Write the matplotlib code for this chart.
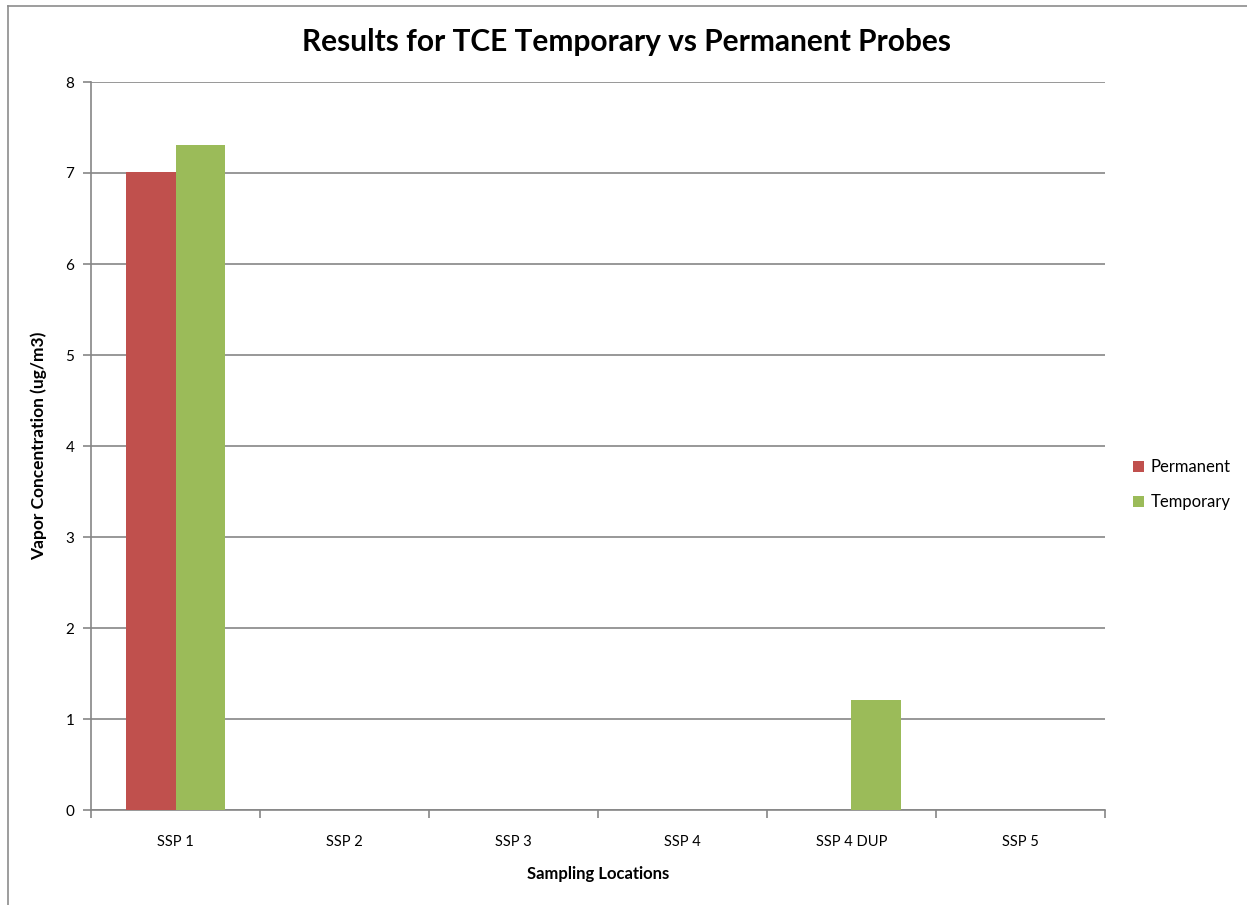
import numpy as np
import matplotlib.pyplot as plt
from matplotlib.lines import Line2D

locations = ["SSP 1", "SSP 2", "SSP 3", "SSP 4", "SSP 4 DUP", "SSP 5"]
permanent = [7.01, 0, 0, 0, 0, 0]
temporary = [7.31, 0, 0, 0, 1.21, 0]

plt.rcParams["font.family"] = ["Lato", "DejaVu Sans"]
axis_grey = "#868686"

fig = plt.figure(figsize=(12.47, 9.05), dpi=100)
ax = fig.add_axes([91 / 1247, 1 - 810 / 905, (1105 - 91) / 1247, (810 - 82) / 905])

# chart border, only left and top edges fall inside the image
bx, by = 8 / 1247, 1 - 6 / 905
fig.lines.append(Line2D([bx, bx], [0, by], transform=fig.transFigure,
                        color="#8c8c8c", linewidth=1.2))
fig.lines.append(Line2D([bx, 1], [by, by], transform=fig.transFigure,
                        color="#8c8c8c", linewidth=1.2))

x = np.arange(len(locations))
w = 0.29
ax.bar(x - w / 2, permanent, w, color="#c0504d", label="Permanent", zorder=3)
ax.bar(x + w / 2, temporary, w, color="#9bbb59", label="Temporary", zorder=3)

ax.set_xlim(-0.5, len(locations) - 0.5)
ax.set_ylim(0, 8)
ax.set_yticks(range(0, 9))
ax.yaxis.grid(True, color=axis_grey, linewidth=1.2, zorder=0)
ax.set_axisbelow(True)

# category labels centred, tick marks on the boundaries
ax.set_xticks(x)
ax.set_xticklabels(locations, fontsize=10.5)
ax.set_xticks(np.arange(-0.5, len(locations)), minor=True)
ax.tick_params(axis="x", which="major", length=0, pad=18)
ax.tick_params(axis="x", which="minor", length=6, color=axis_grey, width=1.2)
ax.tick_params(axis="y", length=6, color=axis_grey, width=1.2, labelsize=11, pad=6)

for side in ["top", "right"]:
    ax.spines[side].set_visible(False)
for side in ["left", "bottom"]:
    ax.spines[side].set_color(axis_grey)
    ax.spines[side].set_linewidth(1.2)

ax.set_xlabel("Sampling Locations", fontsize=12, fontweight="bold", labelpad=12)
ax.set_ylabel("Vapor Concentration (ug/m3)", fontsize=12.5, fontweight="bold", labelpad=13)
fig.text(627 / 1247, 1 - 42 / 905, "Results for TCE Temporary vs Permanent Probes",
         ha="center", va="center", fontsize=21.5, fontweight="bold")

ax.legend(loc="center left", bbox_to_anchor=(1.013, 0.447), frameon=False,
          fontsize=12, handlelength=0.65, handleheight=0.65, labelspacing=1.15,
          handletextpad=0.4)

fig.savefig("out.png", dpi=100)
